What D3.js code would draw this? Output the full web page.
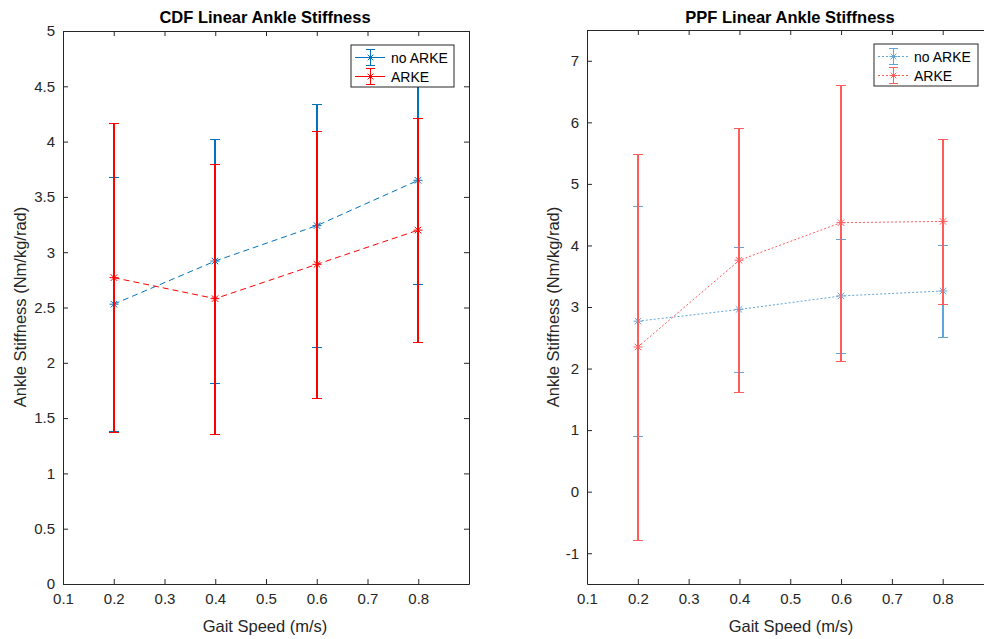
<!DOCTYPE html>
<html>
<head>
<meta charset="utf-8">
<script src="https://cdn.jsdelivr.net/npm/d3@7"></script>
<style>
  body { margin: 0; background: #fff; }
  svg { display: block; font-family: "Liberation Sans", Arial, sans-serif; }
  .tick text { fill: #262626; font-size: 15px; }
  .domain, .tick line { stroke: #262626; }
</style>
</head>
<body>
<svg width="984" height="639"></svg>
<script>
// gait speeds (m/s)
const speeds = [0.2, 0.4, 0.6, 0.8];

// CDF linear ankle stiffness: mean and error half-width
const cdfNoArke = [2.53, 2.92, 3.24, 3.65];
const cdfNoArkeErr = [1.15, 1.10, 1.10, 0.94];
const cdfArke = [2.77, 2.58, 2.89, 3.20];
const cdfArkeErr = [1.40, 1.22, 1.21, 1.01];

// PPF linear ankle stiffness
const ppfNoArke = [2.77, 2.96, 3.18, 3.26];
const ppfNoArkeErr = [1.87, 1.01, 0.93, 0.75];
const ppfArke = [2.35, 3.76, 4.37, 4.39];
const ppfArkeErr = [3.14, 2.14, 2.24, 1.34];

const xTicks = [0.1, 0.2, 0.3, 0.4, 0.5, 0.6, 0.7, 0.8];
const cdfYTicks = [0, 0.5, 1, 1.5, 2, 2.5, 3, 3.5, 4, 4.5, 5];
const ppfYTicks = [-1, 0, 1, 2, 3, 4, 5, 6, 7];

const svg = d3.select('svg');

// builds the rows for one series
const rows = (mean, err) => speeds.map((s, i) => ({ x: s, y: mean[i], e: err[i] }));

// asterisk marker: plus + cross
const star = (g, x, y, r, color) => {
  const d = r * 0.72;
  g.append('path')
    .attr('d', `M${x - r},${y}H${x + r}M${x},${y - r}V${y + r}` +
      `M${x - d},${y - d}L${x + d},${y + d}M${x - d},${y + d}L${x + d},${y - d}`)
    .attr('stroke', color)
    .attr('stroke-width', 1)
    .attr('fill', 'none');
};

const drawPanel = opt => {
  const x = d3.scaleLinear().domain([0.1, 0.9]).range([opt.left, opt.right]);
  const y = d3.scaleLinear().domain(opt.yDomain).range([opt.bottom, opt.top]);

  const g = svg.append('g');

  // axes, ticks pointing inwards
  g.append('g')
    .attr('transform', `translate(0,${opt.bottom})`)
    .call(d3.axisBottom(x).tickValues(xTicks).tickFormat(d3.format('.1f'))
      .tickSizeInner(-5).tickSizeOuter(0).tickPadding(9));
  g.append('g')
    .attr('transform', `translate(0,${opt.top})`)
    .call(d3.axisTop(x).tickValues(xTicks.concat([0.9])).tickFormat('')
      .tickSizeInner(-5).tickSizeOuter(0));
  g.append('g')
    .attr('transform', `translate(${opt.left},0)`)
    .call(d3.axisLeft(y).tickValues(opt.yTicks).tickFormat(d => d)
      .tickSizeInner(-5).tickSizeOuter(0).tickPadding(8));
  g.append('g')
    .attr('transform', `translate(${opt.right},0)`)
    .call(d3.axisRight(y).tickValues(opt.yTicks).tickFormat('')
      .tickSizeInner(-5).tickSizeOuter(0));

  // series
  opt.series.forEach(s => {
    const sg = g.append('g');
    const line = d3.line().x(d => x(d.x)).y(d => y(d.y));
    sg.append('path')
      .datum(s.data)
      .attr('d', line)
      .attr('fill', 'none')
      .attr('stroke', s.color)
      .attr('stroke-width', 1)
      .attr('stroke-dasharray', opt.dash);

    s.data.forEach(d => {
      const px = Math.round(x(d.x));
      const y0 = Math.round(y(d.y - d.e)) + 0.5;
      const y1 = Math.round(y(d.y + d.e)) + 0.5;
      // vertical bar
      sg.append('path')
        .attr('d', `M${px},${y0}V${y1}`)
        .attr('stroke', s.color)
        .attr('stroke-width', 2)
        .attr('fill', 'none');
      // caps
      sg.append('path')
        .attr('d', `M${px - 5},${y0}H${px + 5}M${px - 5},${y1}H${px + 5}`)
        .attr('stroke', s.color)
        .attr('stroke-width', 1.2)
        .attr('fill', 'none');
      star(sg, px, y(d.y), 4.5, s.color);
    });
  });

  // legend
  const lg = g.append('g').attr('transform', `translate(${opt.legend.x},${opt.legend.y})`);
  lg.append('rect')
    .attr('width', opt.legend.w)
    .attr('height', 42)
    .attr('fill', '#fff')
    .attr('stroke', '#262626')
    .attr('stroke-width', 1);
  opt.series.forEach((s, i) => {
    const ly = 12.5 + i * 19;
    lg.append('line')
      .attr('x1', 4).attr('x2', 34)
      .attr('y1', ly).attr('y2', ly)
      .attr('stroke', s.color)
      .attr('stroke-dasharray', opt.legendDash);
    lg.append('path')
      .attr('d', `M19.5,${ly - 8}V${ly + 8}M15,${ly - 8}H24M15,${ly + 8}H24`)
      .attr('stroke', s.color)
      .attr('fill', 'none');
    star(lg, 19.5, ly, 4, s.color);
    lg.append('text')
      .attr('x', 40)
      .attr('y', ly + 5)
      .attr('font-size', 14)
      .attr('fill', '#000')
      .text(s.name);
  });

  // labels
  g.append('text')
    .attr('x', opt.titleX)
    .attr('y', 23)
    .attr('text-anchor', 'middle')
    .attr('font-size', 16.5)
    .attr('font-weight', 'bold')
    .text(opt.title);
  g.append('text')
    .attr('x', opt.xlabelX)
    .attr('y', 632)
    .attr('text-anchor', 'middle')
    .attr('font-size', 16.5)
    .attr('fill', '#262626')
    .text('Gait Speed (m/s)');
  g.append('text')
    .attr('transform', `translate(${opt.ylabelX},${opt.ylabelY}) rotate(-90)`)
    .attr('text-anchor', 'middle')
    .attr('font-size', 16.5)
    .attr('fill', '#262626')
    .text('Ankle Stiffness (Nm/kg/rad)');
};

drawPanel({
  title: 'CDF Linear Ankle Stiffness',
  left: 63, right: 469, top: 31, bottom: 584,
  yDomain: [0, 5], yTicks: cdfYTicks,
  dash: '6,4', legendDash: null,
  titleX: 265, xlabelX: 265,
  ylabelX: 26, ylabelY: 307,
  legend: { x: 351, y: 45, w: 103 },
  series: [
    { name: 'no ARKE', color: '#0072bd', data: rows(cdfNoArke, cdfNoArkeErr) },
    { name: 'ARKE', color: '#ff0000', data: rows(cdfArke, cdfArkeErr) }
  ]
});

drawPanel({
  title: 'PPF Linear Ankle Stiffness',
  left: 587, right: 993.5, top: 30, bottom: 584,
  yDomain: [-1.5, 7.5], yTicks: ppfYTicks,
  dash: '2,2', legendDash: '2,2',
  titleX: 790, xlabelX: 791,
  ylabelX: 559, ylabelY: 307,
  legend: { x: 874, y: 44, w: 104 },
  series: [
    { name: 'no ARKE', color: '#5fa5d9', data: rows(ppfNoArke, ppfNoArkeErr) },
    { name: 'ARKE', color: '#ff5c5c', data: rows(ppfArke, ppfArkeErr) }
  ]
});
</script>
</body>
</html>
